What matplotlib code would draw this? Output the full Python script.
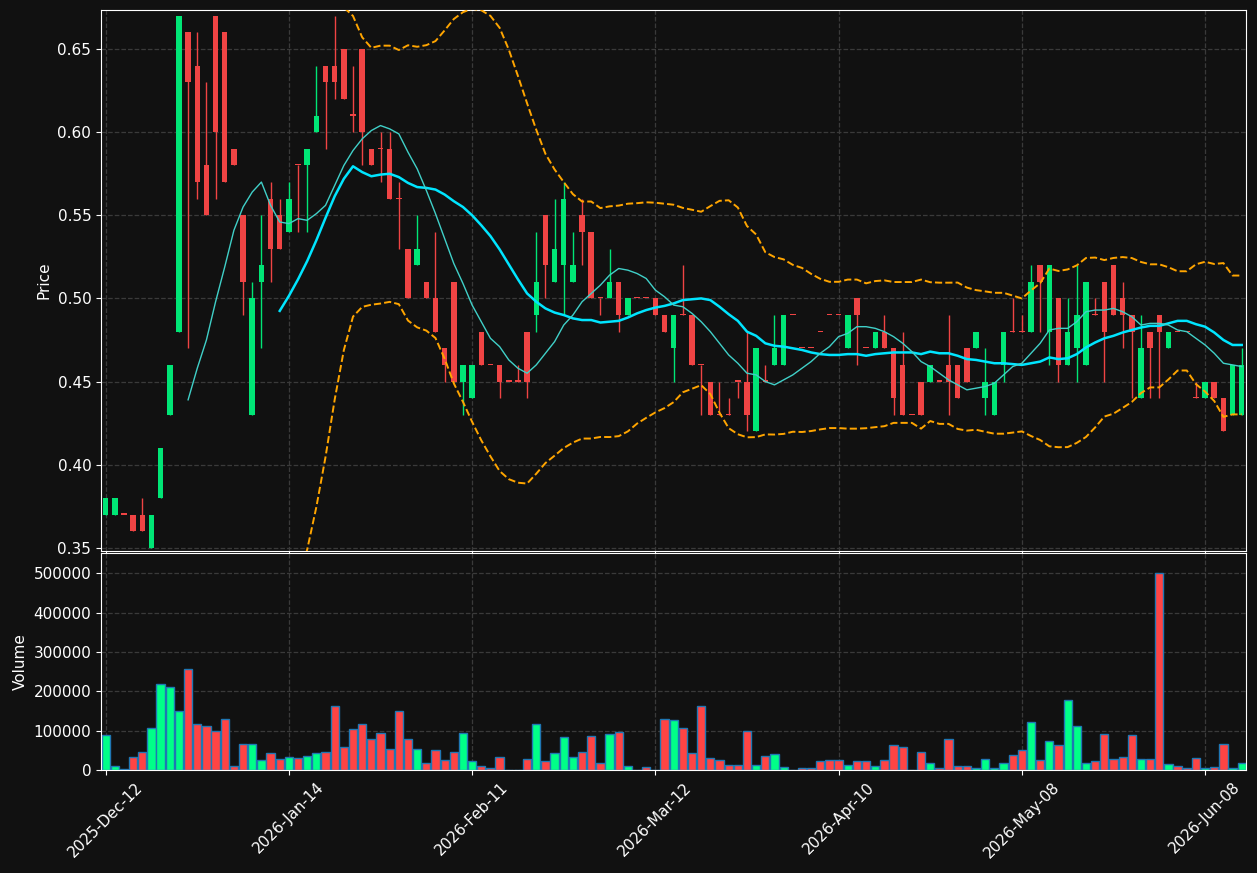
import numpy as np
import pandas as pd
from matplotlib import pyplot as plt

# daily candles (index 0 = 2025-Dec-12)
opens = [0.37, 0.37, 0.37, 0.37, 0.37, 0.35, 0.38, 0.43, 0.48, 0.66,
         0.64, 0.58, 0.67, 0.66, 0.59, 0.55, 0.43, 0.51, 0.56, 0.55,
         0.54, 0.58, 0.58, 0.60, 0.64, 0.64, 0.65, 0.61, 0.65, 0.59,
         0.59, 0.59, 0.56, 0.53, 0.52, 0.51, 0.50, 0.47, 0.51, 0.45,
         0.44, 0.48, 0.46, 0.46, 0.45, 0.45, 0.48, 0.49, 0.55, 0.51,
         0.52, 0.51, 0.55, 0.54, 0.50, 0.50, 0.51, 0.49, 0.50, 0.50,
         0.50, 0.49, 0.47, 0.49, 0.49, 0.46, 0.45, 0.43, 0.43, 0.45,
         0.45, 0.42, 0.45, 0.46, 0.46, 0.49, 0.47, 0.47, 0.48, 0.49,
         0.49, 0.47, 0.50, 0.47, 0.47, 0.48, 0.47, 0.46, 0.43, 0.45,
         0.45, 0.45, 0.46, 0.46, 0.47, 0.47, 0.44, 0.43, 0.46, 0.48,
         0.48, 0.48, 0.52, 0.48, 0.50, 0.46, 0.47, 0.46, 0.49, 0.51,
         0.52, 0.50, 0.49, 0.44, 0.48, 0.49, 0.47, 0.48, 0.48, 0.44,
         0.44, 0.45, 0.44, 0.43, 0.43]
highs = [0.38, 0.38, 0.37, 0.37, 0.38, 0.37, 0.41, 0.46, 0.67, 0.66,
         0.66, 0.63, 0.67, 0.66, 0.59, 0.55, 0.51, 0.55, 0.57, 0.56,
         0.57, 0.58, 0.59, 0.64, 0.64, 0.67, 0.65, 0.64, 0.65, 0.59,
         0.60, 0.60, 0.57, 0.53, 0.55, 0.51, 0.54, 0.47, 0.51, 0.46,
         0.46, 0.48, 0.46, 0.46, 0.45, 0.46, 0.48, 0.54, 0.55, 0.56,
         0.57, 0.54, 0.56, 0.54, 0.50, 0.53, 0.51, 0.50, 0.50, 0.50,
         0.50, 0.49, 0.49, 0.52, 0.49, 0.46, 0.45, 0.45, 0.44, 0.45,
         0.48, 0.47, 0.46, 0.49, 0.49, 0.49, 0.47, 0.47, 0.48, 0.49,
         0.49, 0.49, 0.50, 0.47, 0.48, 0.49, 0.47, 0.48, 0.43, 0.45,
         0.46, 0.45, 0.49, 0.46, 0.47, 0.48, 0.47, 0.45, 0.48, 0.50,
         0.49, 0.52, 0.52, 0.52, 0.50, 0.50, 0.52, 0.51, 0.50, 0.51,
         0.52, 0.51, 0.49, 0.49, 0.48, 0.49, 0.48, 0.48, 0.48, 0.45,
         0.45, 0.45, 0.44, 0.46, 0.47]
lows = [0.37, 0.37, 0.37, 0.36, 0.36, 0.35, 0.38, 0.43, 0.48, 0.47,
        0.56, 0.55, 0.56, 0.57, 0.58, 0.49, 0.43, 0.47, 0.51, 0.53,
        0.54, 0.54, 0.54, 0.60, 0.59, 0.62, 0.62, 0.60, 0.58, 0.58,
        0.57, 0.56, 0.53, 0.50, 0.52, 0.50, 0.48, 0.45, 0.45, 0.43,
        0.44, 0.46, 0.46, 0.44, 0.45, 0.45, 0.44, 0.48, 0.50, 0.51,
        0.49, 0.51, 0.52, 0.50, 0.49, 0.50, 0.48, 0.49, 0.50, 0.50,
        0.49, 0.48, 0.45, 0.49, 0.46, 0.43, 0.43, 0.43, 0.43, 0.44,
        0.42, 0.42, 0.45, 0.46, 0.46, 0.49, 0.47, 0.47, 0.48, 0.49,
        0.49, 0.47, 0.46, 0.47, 0.47, 0.47, 0.43, 0.43, 0.43, 0.43,
        0.45, 0.45, 0.43, 0.44, 0.45, 0.47, 0.43, 0.43, 0.45, 0.48,
        0.48, 0.48, 0.48, 0.46, 0.45, 0.46, 0.45, 0.46, 0.49, 0.45,
        0.49, 0.47, 0.44, 0.44, 0.44, 0.44, 0.47, 0.48, 0.48, 0.44,
        0.44, 0.44, 0.42, 0.43, 0.43]
closes = [0.38, 0.38, 0.37, 0.36, 0.36, 0.37, 0.41, 0.46, 0.67, 0.63,
          0.57, 0.55, 0.60, 0.57, 0.58, 0.51, 0.50, 0.52, 0.53, 0.53,
          0.56, 0.58, 0.59, 0.61, 0.63, 0.63, 0.62, 0.61, 0.60, 0.58,
          0.59, 0.56, 0.56, 0.50, 0.53, 0.50, 0.48, 0.46, 0.45, 0.46,
          0.46, 0.46, 0.46, 0.45, 0.45, 0.45, 0.45, 0.51, 0.52, 0.53,
          0.56, 0.52, 0.54, 0.50, 0.50, 0.51, 0.49, 0.50, 0.50, 0.50,
          0.49, 0.48, 0.49, 0.49, 0.46, 0.46, 0.43, 0.43, 0.43, 0.45,
          0.43, 0.47, 0.45, 0.47, 0.49, 0.49, 0.47, 0.47, 0.48, 0.49,
          0.49, 0.49, 0.49, 0.47, 0.48, 0.47, 0.44, 0.43, 0.43, 0.43,
          0.46, 0.45, 0.45, 0.44, 0.45, 0.48, 0.45, 0.45, 0.48, 0.48,
          0.48, 0.51, 0.51, 0.52, 0.46, 0.48, 0.49, 0.51, 0.49, 0.48,
          0.49, 0.49, 0.48, 0.47, 0.47, 0.48, 0.48, 0.48, 0.48, 0.44,
          0.45, 0.44, 0.42, 0.46, 0.46]
volumes = [88000, 9000, 2000, 32000, 47000, 108000, 218000, 210000, 149000, 256000,
           116000, 111000, 98000, 129000, 9000, 67000, 67000, 25000, 42000, 27000,
           32000, 30000, 35000, 42000, 45000, 164000, 58000, 103000, 116000, 78000,
           93000, 53000, 149000, 78000, 53000, 19000, 50000, 25000, 47000, 93000,
           22000, 9000, 4000, 32000, 1000, 1000, 27000, 116000, 22000, 42000,
           83000, 32000, 47000, 86000, 19000, 91000, 96000, 9000, 1000, 7000,
           1000, 129000, 126000, 108000, 42000, 162000, 30000, 25000, 12000, 12000,
           98000, 12000, 35000, 40000, 7000, 1000, 4000, 4000, 22000, 25000,
           25000, 12000, 22000, 22000, 9000, 25000, 63000, 58000, 1000, 45000,
           17000, 4000, 78000, 9000, 9000, 4000, 27000, 4000, 19000, 37000,
           50000, 121000, 25000, 75000, 63000, 177000, 111000, 17000, 22000, 91000,
           27000, 32000, 88000, 27000, 27000, 500000, 14000, 9000, 4000, 30000,
           4000, 7000, 65000, 4000, 17000]

tick_pos = [0, 20, 40, 60, 80, 100, 120]
tick_labels = ['2025-Dec-12', '2026-Jan-14', '2026-Feb-11', '2026-Mar-12',
               '2026-Apr-10', '2026-May-08', '2026-Jun-08']

df = pd.DataFrame({'open': opens, 'high': highs, 'low': lows,
                   'close': closes, 'volume': volumes})
x = np.arange(len(df))
up = df['close'] > df['open']

ma10 = df['close'].rolling(10).mean()
ma20 = df['close'].rolling(20).mean()
sd20 = df['close'].rolling(20).std(ddof=0)
bb_up = ma20 + 2 * sd20
bb_lo = ma20 - 2 * sd20

bg = '#111111'
green = '#00e676'
red = '#f04444'

fig = plt.figure(figsize=(12.57, 8.73), dpi=100, facecolor=bg)
gs = fig.add_gridspec(2, 1, height_ratios=[541, 217], hspace=0.005,
                      left=0.0804, right=0.9915, top=0.9885, bottom=0.118)
ax = fig.add_subplot(gs[0])
axv = fig.add_subplot(gs[1], sharex=ax)

cols = np.where(up, green, red)
# wicks
ax.vlines(x, df['low'], df['high'], colors=cols, linewidth=1, zorder=2)
# bodies
body = np.maximum((df['close'] - df['open']).abs(), 0.0007)
bottom = np.minimum(df['open'], df['close'])
ax.bar(x, body, bottom=bottom, width=0.6, color=cols, linewidth=0, zorder=3)

ax.plot(x, ma20, color='#00e5ff', linewidth=1.8, zorder=4)
ax.plot(x, ma10, color='#40d0c8', linewidth=1.0, zorder=4)
ax.plot(x, bb_up, color='#ffa500', linewidth=1.4, linestyle='--', zorder=4)
ax.plot(x, bb_lo, color='#ffa500', linewidth=1.4, linestyle='--', zorder=4)

vcols = np.where(up, '#00ff88', '#ff4444')
axv.bar(x, df['volume'], width=0.9, color=vcols, edgecolor='#1f77b4', linewidth=1)

ax.set_ylim(0.348, 0.6735)
ax.set_xlim(-0.5, 124.5)
axv.set_ylim(0, 552000)

for a in (ax, axv):
    a.set_facecolor(bg)
    a.grid(True, linestyle='--', color='#3a3a3a', linewidth=0.9)
    a.set_axisbelow(True)
    for s in a.spines.values():
        s.set_color('white')
    a.tick_params(colors='white', labelsize=11)

ax.set_ylabel('Price', color='white', fontsize=11)
axv.set_ylabel('Volume', color='white', fontsize=11)
axv.set_xticks(tick_pos)
axv.set_xticklabels(tick_labels, rotation=45)
plt.setp(ax.get_xticklabels(), visible=False)
axv.ticklabel_format(axis='y', style='plain')

fig.savefig('out.png', facecolor=bg)
